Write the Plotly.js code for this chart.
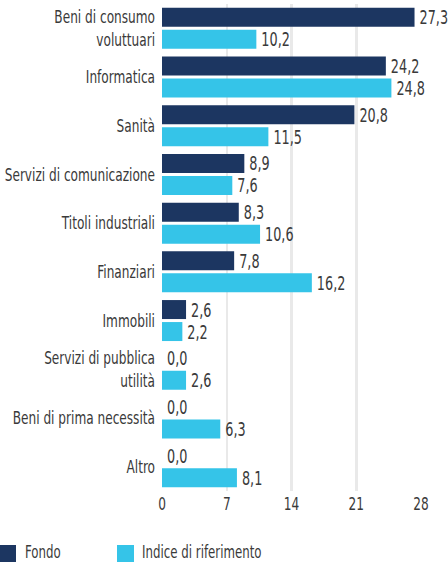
<!DOCTYPE html>
<html>
<head>
<meta charset="utf-8">
<script src="https://cdn.plot.ly/plotly-3.0.1.min.js"></script>
<style>
html,body{margin:0;padding:0;background:#fff;}
#chart{width:448px;height:563px;}
</style>
</head>
<body>
<div id="chart"></div>
<script>
const categories = ["Beni di consumo<br>voluttuari","Informatica","Sanità","Servizi di comunicazione","Titoli industriali","Finanziari","Immobili","Servizi di pubblica<br>utilità","Beni di prima necessità","Altro"];
const fondo = [27.3,24.2,20.8,8.9,8.3,7.8,2.6,0.0,0.0,0.0];
const indice = [10.2,24.8,11.5,7.6,10.6,16.2,2.2,2.6,6.3,8.1];
const seriesNames = ["Fondo","Indice di riferimento"];
const tickVals = [0,7,14,21,28];

const FONT = '"DejaVu Sans Condensed","Liberation Sans Narrow","DejaVu Sans",sans-serif';
const colors = ["#1c3661","#35c4e8"];
const TXT = '#3a3a3a';

const mk = (vals, i) => ({
  type:'bar', orientation:'h', y:categories, x:vals, name:seriesNames[i],
  marker:{color:colors[i]},
  texttemplate:'%{x:.1f}', textposition:'outside', cliponaxis:false,
  constraintext:'none',
  outsidetextfont:{family:FONT,size:19,color:TXT},
  hoverinfo:'skip', showlegend:false
});

const data = [mk(fondo,0), mk(indice,1)];

const layout = {
  width:448, height:563,
  margin:{l:162,r:27,t:4,b:72},
  separators:',.',
  barmode:'group', bargap:0.097, bargroupgap:0.136,
  font:{family:FONT,size:18,color:TXT},
  paper_bgcolor:'#fff', plot_bgcolor:'#fff',
  xaxis:{range:[0,28], tickvals:tickVals, ticktext:tickVals.map(String),
    showgrid:true, gridcolor:'#e9e9e9', gridwidth:2.5, zeroline:false,
    showline:false, ticks:'', tickfont:{family:FONT,size:18,color:TXT}, fixedrange:true},
  yaxis:{autorange:'reversed', showgrid:false, zeroline:false, showline:false,
    ticks:'', ticklabelstandoff:6, tickfont:{family:FONT,size:18,color:TXT}},
  shapes:[
    {type:'rect', xref:'paper', yref:'paper', x0:-162/259, x1:-146/259, y0:-71/487, y1:-54/487, fillcolor:colors[0], line:{width:0}},
    {type:'rect', xref:'paper', yref:'paper', x0:(117-162)/259, x1:(134-162)/259, y0:-71/487, y1:-54/487, fillcolor:colors[1], line:{width:0}}
  ],
  annotations:[
    {xref:'paper', yref:'paper', x:(23-162)/259, y:-61/487, xanchor:'left', yanchor:'middle', showarrow:false, text:seriesNames[0], font:{family:FONT,size:17.5,color:TXT}},
    {xref:'paper', yref:'paper', x:(140-162)/259, y:-61/487, xanchor:'left', yanchor:'middle', showarrow:false, text:seriesNames[1], font:{family:FONT,size:17.5,color:TXT}}
  ]
};

function condense(sel, k, anchor, dx) {
  document.querySelectorAll(sel).forEach(t => {
    const bb = t.getBBox();
    const ax = anchor === 'start' ? bb.x : anchor === 'end' ? bb.x + bb.width : bb.x + bb.width / 2;
    const tr = t.getAttribute('transform') || '';
    t.setAttribute('transform', tr + ` translate(${ax + (dx || 0)},0) scale(${k},1) translate(${-ax},0)`);
  });
}

Plotly.newPlot('chart', data, layout, {displayModeBar:false, staticPlot:true}).then(() => {
  const K = 0.75;
  condense('#chart .ytick text', K, 'end');
  condense('#chart .xtick text', K, 'middle');
  condense('#chart text.bartext', K, 'start', 2);
  condense('#chart .annotation-text', K, 'start');
});
</script>
</body>
</html>
